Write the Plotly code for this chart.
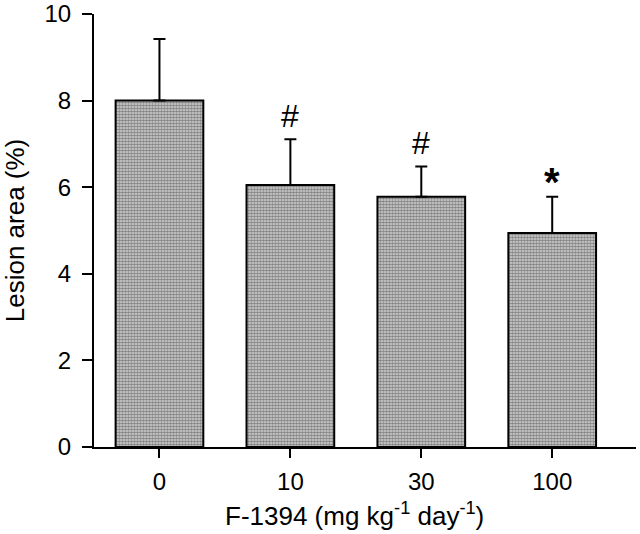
import plotly.graph_objects as go

categories = ["0", "10", "30", "100"]
lesion_area = [8.0, 6.05, 5.78, 4.94]
sem = [1.42, 1.06, 0.70, 0.84]
significance = ["", "#", "#", "*"]
x_title = "F-1394 (mg kg<sup>-1</sup> day<sup>-1</sup>)"
y_title = "Lesion area (%)"

FONT = "Liberation Sans, Arial, Helvetica, sans-serif"

fig = go.Figure()
fig.add_trace(go.Bar(
    x=categories, y=lesion_area,
    width=0.67,
    marker=dict(
        color="white",
        line=dict(color="black", width=2),
        pattern=dict(shape=".", fgcolor="#333333", bgcolor="#d6d6d6", size=3, solidity=0.65),
    ),
    error_y=dict(type="data", array=sem, symmetric=False, arrayminus=[0] * 4,
                 color="black", thickness=2, width=6),
    showlegend=False,
    hoverinfo="skip",
))

for i, (v, e, s) in enumerate(zip(lesion_area, sem, significance)):
    if s == "#":
        fig.add_annotation(x=i, y=v + e, text=s, showarrow=False, yanchor="bottom",
                           yshift=3, font=dict(size=32, color="black", family=FONT))
    elif s == "*":
        fig.add_annotation(x=i, y=v + e, text="<b>*</b>", showarrow=False, yanchor="bottom",
                           yshift=-9, font=dict(size=40, color="black", family=FONT))

# x-axis title placed slightly left of centre, as in the reference
fig.add_annotation(xref="paper", yref="paper", x=0.48, y=-0.155, text=x_title,
                   showarrow=False, xanchor="center", yanchor="middle",
                   font=dict(size=26, color="black", family=FONT))

fig.update_layout(
    width=640, height=534,
    margin=dict(l=94, r=4, t=14, b=87, autoexpand=False),
    paper_bgcolor="white", plot_bgcolor="white",
    font=dict(family=FONT, size=20, color="black"),
)
fig.update_xaxes(
    type="category", range=[-0.5, 3.64],
    showline=True, linecolor="black", linewidth=2,
    ticks="outside", ticklen=9, tickwidth=2, tickcolor="black",
    tickfont=dict(size=24), ticklabelstandoff=3,
    showgrid=False, zeroline=False,
)
fig.update_yaxes(
    range=[0, 10], tickvals=[0, 2, 4, 6, 8, 10],
    showline=True, linecolor="black", linewidth=2,
    ticks="outside", ticklen=10, tickwidth=2, tickcolor="black",
    tickfont=dict(size=24), ticklabelstandoff=6, ticklabeloverflow="allow",
    title=dict(text=y_title, font=dict(size=26), standoff=22),
    showgrid=False, zeroline=False,
)

fig.write_html("out.html", config={"displayModeBar": False},
               post_script="document.body.style.margin='0';")
